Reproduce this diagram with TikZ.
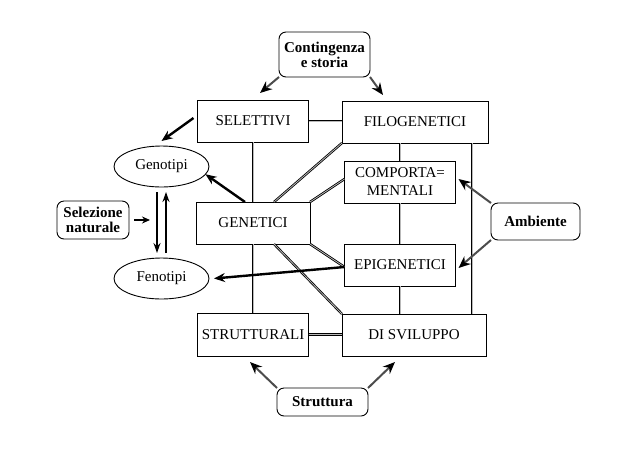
\documentclass[tikz,border=0pt]{standalone}
\usepackage{fontspec}
\setmainfont{Liberation Serif}
\usetikzlibrary{arrows.meta,shapes.geometric}
\begin{document}
\begin{tikzpicture}[x=1pt,y=-1pt,
  every node/.style={outer sep=0pt, inner sep=0pt, font=\fontsize{15}{15}\selectfont},
  box/.style={draw, line width=1pt, minimum height=42pt, align=center, font=\fontsize{15}{18}\selectfont},
  rbox/.style={draw, rounded corners=7pt, line width=0.9pt, align=center, font=\fontsize{15}{15}\selectfont\bfseries},
  oval/.style={draw, ellipse, line width=0.9pt, minimum width=95pt, minimum height=41pt},
  link/.style={draw=black, line width=0.8pt, double=gray!55, double distance=0.8pt},
  flow/.style={draw=black!70, line width=2pt, -{Stealth[length=12pt,width=10pt,color=black]}},
  push/.style={line width=2.4pt, -{Stealth[length=11pt,width=9pt]}}]
\useasboundingbox (0,0) rectangle (640,451);

\node[rbox, minimum width=91pt, minimum height=45pt] (cont) at (324.5,54.5) {Contingenza\\e storia};
\node[box, minimum width=111pt] (sel) at (253,121) {SELETTIVI};
\node[box, minimum width=146pt] (filo) at (415,122) {FILOGENETICI};
\node[box, minimum width=111pt] (comp) at (400,182) {COMPORTA=\\MENTALI};
\node[box, minimum width=114pt] (gen) at (253,223) {GENETICI};
\node[box, minimum width=111pt] (epi) at (400,265) {EPIGENETICI};
\node[box, minimum width=111pt, minimum height=43pt] (strut) at (253,334.5) {STRUTTURALI};
\node[box, minimum width=144pt] (svil) at (414,335) {DI SVILUPPO};
\node[rbox, minimum width=91pt, minimum height=28pt] (strt) at (322.5,402) {Struttura};
\node[rbox, minimum width=89pt, minimum height=37pt] (amb) at (535.5,221.5) {Ambiente};
\node[rbox, minimum width=72pt, minimum height=38pt] (selnat) at (93,220) {Selezione\\naturale};
\node[oval] (geno) at (161.5,166.5) {Genotipi};
\node[oval] (feno) at (161.5,278.5) {Fenotipi};

\draw[link] (sel.east) -- (sel.east -| filo.west);
\draw[link] (sel.south) -- (gen.north);
\draw[link] (gen.south) -- (strut.north);
\draw[link] (strut.east) -- (strut.east -| svil.west);
\draw[link] (comp.north |- filo.south) -- (comp.north);
\draw[link] (comp.south) -- (epi.north);
\draw[link] (epi.south) -- (epi.south |- svil.north);
\coordinate (rv) at ([xshift=-16pt]filo.south east);
\draw[link] (rv) -- (rv |- svil.north);
\draw[link] (filo.south west) -- ([xshift=21pt]gen.north);
\draw[link] (gen.north east) -- ([yshift=3pt]comp.west);
\draw[link] (gen.south east) -- ([yshift=-2pt]epi.west);
\draw[link] ([xshift=21pt]gen.south) -- (svil.north west);

\draw[flow] (cont.south west) -- ([xshift=7pt,yshift=7pt]sel.north);
\draw[flow] (cont.south east) -- ([xshift=41pt,yshift=6pt]filo.north west);
\draw[flow] (strt.north west) -- ([xshift=-3pt,yshift=-6pt]strut.south);
\draw[flow] (strt.north east) -- ([xshift=53pt,yshift=-6pt]svil.south west);
\draw[flow] (amb.north west) -- ([xshift=3pt,yshift=3pt]comp.east);
\draw[flow] (amb.south west) -- ([xshift=3pt,yshift=-3pt]epi.east);

\draw[push] ([xshift=-8pt]gen.north) -- (geno.-10);
\draw[push] ([yshift=-2pt]epi.west) -- ([xshift=5pt]feno.east);
\draw[push] ([xshift=-4pt,yshift=3pt]sel.west) -- ([yshift=5pt]geno.north);
\draw[push, line width=1.4pt, -{Stealth[length=8pt,width=7pt]}] ([xshift=5pt]selnat.east) -- ++(16,0);
\draw[push, -{Stealth[length=10pt,width=7pt]}] ([xshift=-4.5pt,yshift=-5pt]geno.south) -- ([xshift=-4.5pt,yshift=5pt]feno.north);
\draw[push, -{Stealth[length=10pt,width=7pt]}] ([xshift=4.5pt,yshift=5pt]feno.north) -- ([xshift=4.5pt,yshift=-5pt]geno.south);
\end{tikzpicture}
\end{document}
